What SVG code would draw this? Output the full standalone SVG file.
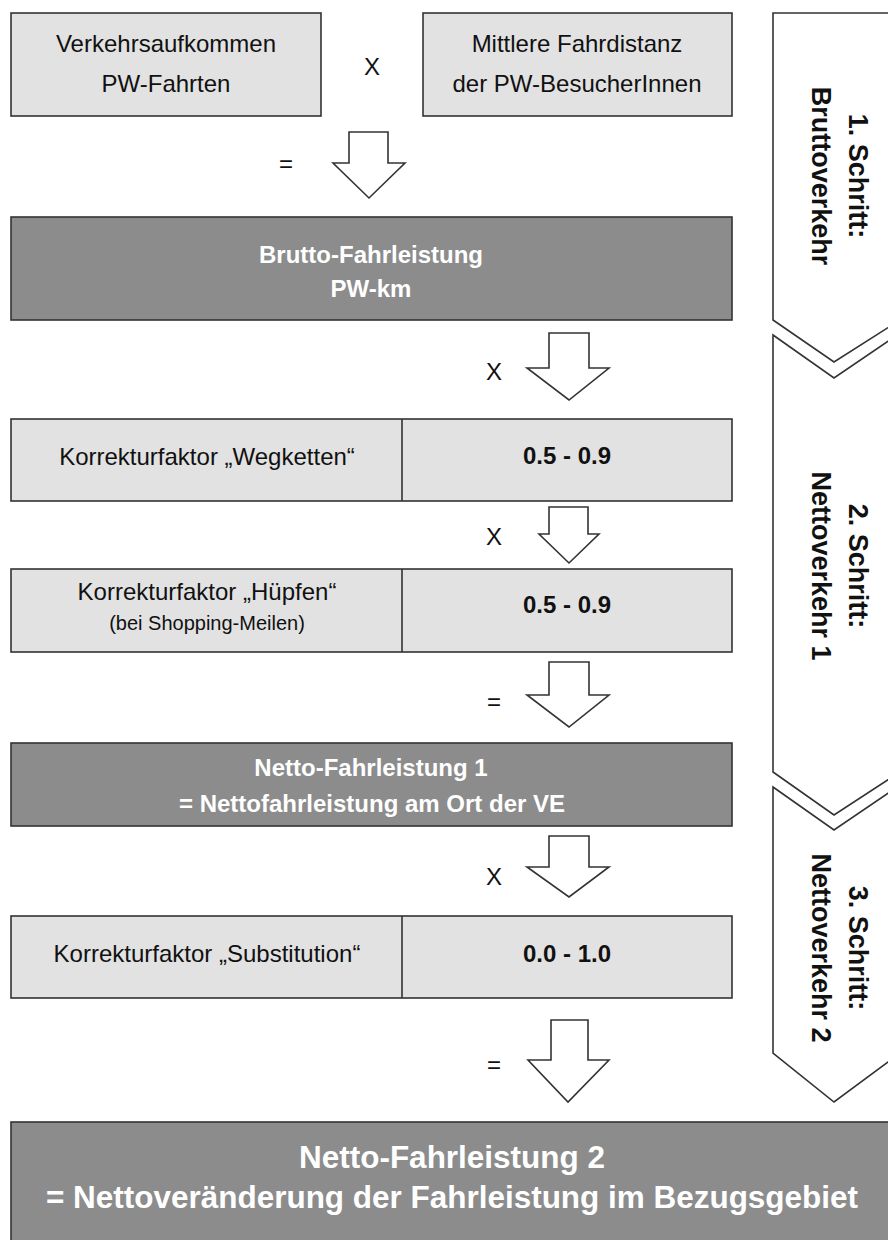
<svg xmlns="http://www.w3.org/2000/svg" width="888" height="1240" viewBox="0 0 888 1240">
<style>
.light{fill:#e2e2e2;stroke:#333;stroke-width:1.6}
.dark{fill:#8c8c8c;stroke:#333;stroke-width:1.6}
.div{stroke:#333;stroke-width:1.6}
.t{font-family:"Liberation Sans",Arial,sans-serif;font-size:24px;fill:#111;text-anchor:middle}
.b{font-weight:bold}
.w{font-family:"Liberation Sans",Arial,sans-serif;font-size:24px;font-weight:bold;fill:#fff;text-anchor:middle}
.small{font-size:20px}
.op{font-family:"Liberation Sans",Arial,sans-serif;font-size:24px;fill:#111;text-anchor:middle}
.arrow{fill:#fff;stroke:#333;stroke-width:1.6;stroke-linejoin:miter}
.chev{fill:#fff;stroke:#333;stroke-width:1.6}
.v{font-family:"Liberation Sans",Arial,sans-serif;font-size:27px;font-weight:bold;fill:#111;text-anchor:middle}
.big{font-family:"Liberation Sans",Arial,sans-serif;font-size:32px;font-weight:bold;fill:#fff;text-anchor:middle}
</style>
<rect x="0" y="0" width="888" height="1240" fill="#fff"/>

<g id="step1">
<path class="chev" d="M773,13 H900 V320 L834,362 L773,320 Z"/>
<g transform="translate(840,176) rotate(90)">
<text class="v" x="0" y="-9">1. Schritt:</text>
<text class="v" x="0" y="28">Bruttoverkehr</text>
</g>
</g>
<g id="step2">
<path class="chev" d="M773,335 L834,378 L900,333 V772 L834,815 L773,772 Z"/>
<g transform="translate(840,566) rotate(90)">
<text class="v" x="0" y="-9">2. Schritt:</text>
<text class="v" x="0" y="28">Nettoverkehr 1</text>
</g>
</g>
<g id="step3">
<path class="chev" d="M773,787 L834,830 L900,785 V1053 L834,1102 L773,1053 Z"/>
<g transform="translate(840,948) rotate(90)">
<text class="v" x="0" y="-9">3. Schritt:</text>
<text class="v" x="0" y="28">Nettoverkehr 2</text>
</g>
</g>

<g id="verkehrsaufkommen">
<rect class="light" x="11" y="13" width="310" height="103"/>
<text class="t" x="166" y="52">Verkehrsaufkommen</text>
<text class="t" x="166" y="92">PW-Fahrten</text>
</g>
<g id="fahrdistanz">
<rect class="light" x="423" y="13" width="309" height="103"/>
<text class="t" x="577" y="52">Mittlere Fahrdistanz</text>
<text class="t" x="577" y="92">der PW-BesucherInnen</text>
</g>

<g id="brutto">
<rect class="dark" x="11" y="217" width="721" height="103"/>
<text class="w" x="371" y="263">Brutto-Fahrleistung</text>
<text class="w" x="371" y="297">PW-km</text>
</g>

<g id="wegketten">
<rect class="light" x="11" y="419" width="721" height="82"/>
<line class="div" x1="402" y1="419" x2="402" y2="501"/>
<text class="t" x="207" y="465">Korrekturfaktor „Wegketten“</text>
<text class="t b" x="567" y="464">0.5 - 0.9</text>
</g>

<g id="huepfen">
<rect class="light" x="11" y="569" width="721" height="83"/>
<line class="div" x1="402" y1="569" x2="402" y2="652"/>
<text class="t" x="207" y="600">Korrekturfaktor „Hüpfen“</text>
<text class="t small" x="207" y="630">(bei Shopping-Meilen)</text>
<text class="t b" x="567" y="613">0.5 - 0.9</text>
</g>

<g id="netto1">
<rect class="dark" x="11" y="743" width="721" height="83"/>
<text class="w" x="371" y="776">Netto-Fahrleistung 1</text>
<text class="w" x="372" y="812">= Nettofahrleistung am Ort der VE</text>
</g>

<g id="substitution">
<rect class="light" x="11" y="916" width="721" height="82"/>
<line class="div" x1="402" y1="916" x2="402" y2="998"/>
<text class="t" x="207" y="962">Korrekturfaktor „Substitution“</text>
<text class="t b" x="567" y="962">0.0 - 1.0</text>
</g>

<g id="netto2">
<rect class="dark" x="11" y="1122" width="880" height="130"/>
<text class="big" x="452" y="1168" textLength="306" lengthAdjust="spacingAndGlyphs">Netto-Fahrleistung 2</text>
<text class="big" x="452" y="1208" textLength="812" lengthAdjust="spacingAndGlyphs">= Nettoveränderung der Fahrleistung im Bezugsgebiet</text>
</g>

<g id="connectors">
<text class="op" x="372" y="75" font-size="21">X</text>
<path class="arrow" d="M349,132 H388 V163 H405 L369,198 L333,163 H349 Z"/>
<text class="op" x="286" y="172">=</text>
<path class="arrow" d="M549,333 H589 V368 H609 L569,400 L527,368 H549 Z"/>
<text class="op" x="494" y="380">X</text>
<path class="arrow" d="M549,507 H588 V534 H599 L569,563 L539,534 H549 Z"/>
<text class="op" x="494" y="545">X</text>
<path class="arrow" d="M549,662 H589 V695 H609 L569,727 L527,695 H549 Z"/>
<text class="op" x="494" y="710">=</text>
<path class="arrow" d="M549,836 H589 V867 H609 L569,897 L527,867 H549 Z"/>
<text class="op" x="494" y="885">X</text>
<path class="arrow" d="M551,1020 H588 V1060 H609 L568,1102 L528,1060 H551 Z"/>
<text class="op" x="494" y="1073">=</text>
</g>
</svg>
